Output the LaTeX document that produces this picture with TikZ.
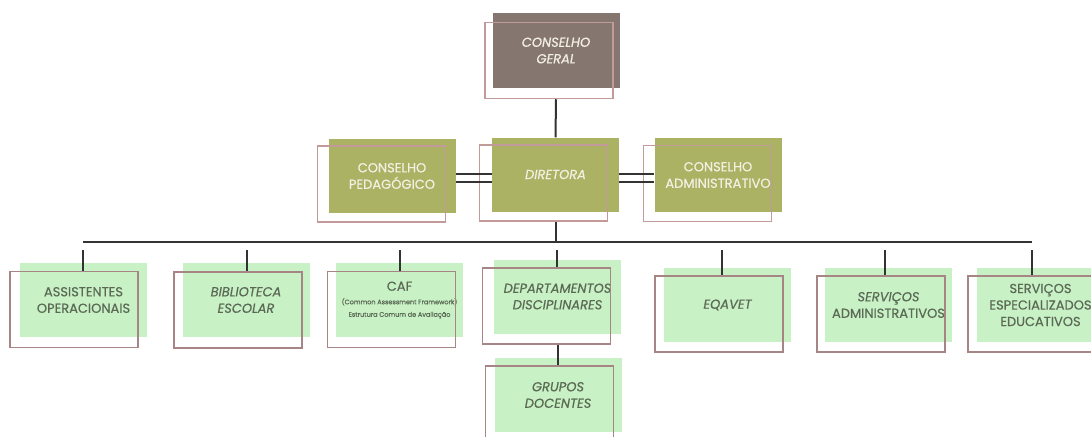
\documentclass[tikz,border=0pt]{standalone}
\usepackage{fontspec}
\setmainfont{Poppins}
\definecolor{geralfill}{HTML}{857770}
\definecolor{midfill}{HTML}{ABB263}
\definecolor{lowfill}{HTML}{C8F2C6}
\definecolor{lighttext}{HTML}{F3EFE2}
\definecolor{lowtext}{HTML}{5C6A55}
\definecolor{pinkline}{HTML}{C29A9A}
\definecolor{brownline}{HTML}{A88585}
\definecolor{linecol}{HTML}{333333}

\begin{document}
\begin{tikzpicture}[x=1pt,y=-1pt,
  topbox/.style={fill=geralfill,text=lighttext,minimum width=127pt,minimum height=74pt,
    inner sep=0pt,align=center,font=\fontsize{13}{16.5}\selectfont\addfontfeature{FakeBold=0.6}},
  midbox/.style={topbox,fill=midfill},
  lowbox/.style={topbox,fill=lowfill,text=lowtext},
  outbox/.style={draw=pinkline,line width=1.5pt,minimum width=128pt,minimum height=76pt,inner sep=0pt},
  lowout/.style={outbox,draw=brownline,line width=1.8pt},
  link/.style={draw=linecol,line width=2pt}]
\useasboundingbox (0,0) rectangle (1091,436);
\clip (0,0) rectangle (1091,436);

% top
\node[topbox] (geral) at (556,50.5) {\itshape CONSELHO\\\itshape GERAL};
\node[outbox] (geral-o) at (549,60.5) {};

% second row
\node[midbox] (ped) at (392,176) {CONSELHO\\PEDAGÓGICO};
\node[outbox] (ped-o) at (381.5,184) {};
\node[midbox] (dir) at (555.5,174.5) {\itshape DIRETORA};
\node[outbox] (dir-o) at (543.5,183) {};
\node[midbox] (adm) at (718,175) {CONSELHO\\ADMINISTRATIVO};
\node[outbox] (adm-o) at (707.5,183.5) {};

% third row
\node[lowbox] (asst) at (83.5,300) {ASSISTENTES\\OPERACIONAIS};
\node[lowout] (asst-o) at (74,309.5) {};
\node[lowbox] (bib) at (246,300) {\itshape BIBLIOTECA\\\itshape ESCOLAR};
\node[lowout] (bib-o) at (238,310) {};
\node[lowbox] (caf) at (399.5,300) {CAF\\[-3pt]{\fontsize{6.5}{7.5}\selectfont (Common Assessment Framework)}\\[-4pt]{\fontsize{6.5}{7.5}\selectfont Estrutura Comum de Avaliação}};
\node[lowout] (caf-o) at (391.5,309.5) {};
\node[lowbox] (dept) at (557.5,296.5) {\itshape DEPARTAMENTOS\\\itshape DISCIPLINARES};
\node[lowout] (dept-o) at (546.5,306) {};
\node[lowbox] (eqa) at (727.5,305) {\itshape EQAVET};
\node[lowout] (eqa-o) at (719,314) {};
\node[lowbox] (sadm) at (888.5,305) {\itshape SERVIÇOS\\ADMINISTRATIVOS};
\node[lowout] (sadm-o) at (881,314) {};
\node[lowbox] (sesp) at (1040.5,305) {SERVIÇOS\\ESPECIALIZADOS\\EDUCATIVOS};
\node[lowout] (sesp-o) at (1032,314) {};
\node[lowbox] (grp) at (558,395) {\itshape GRUPOS\\\itshape DOCENTES};
\node[lowout] (grp-o) at (549.5,404) {};

% connectors
\draw[link] (geral.south |- geral-o.south) -- (dir.north);
\draw[link] (ped.east |- 0,174) -- (dir.west |- 0,174);
\draw[link] (ped.east |- 0,182) -- (dir.west |- 0,182);
\draw[link] (dir.east |- 0,174) -- (adm.west |- 0,174);
\draw[link] (dir.east |- 0,182) -- (adm.west |- 0,182);
\coordinate (busL) at (83,242);
\coordinate (busR) at (1032,242);
\draw[link] (busL) -- (busR);
\draw[link] (dir.south |- dir-o.south) -- (dir.south |- busL);
\foreach \n/\x in {asst/83,bib/247,caf/400,dept/557,eqa/722,sadm/885,sesp/1032}
  \draw[link] (\x,250) -- (\x,250 |- \n-o.north);
\draw[link] (dept.south |- dept-o.south) -- (dept.south |- grp-o.north);
\end{tikzpicture}
\end{document}
